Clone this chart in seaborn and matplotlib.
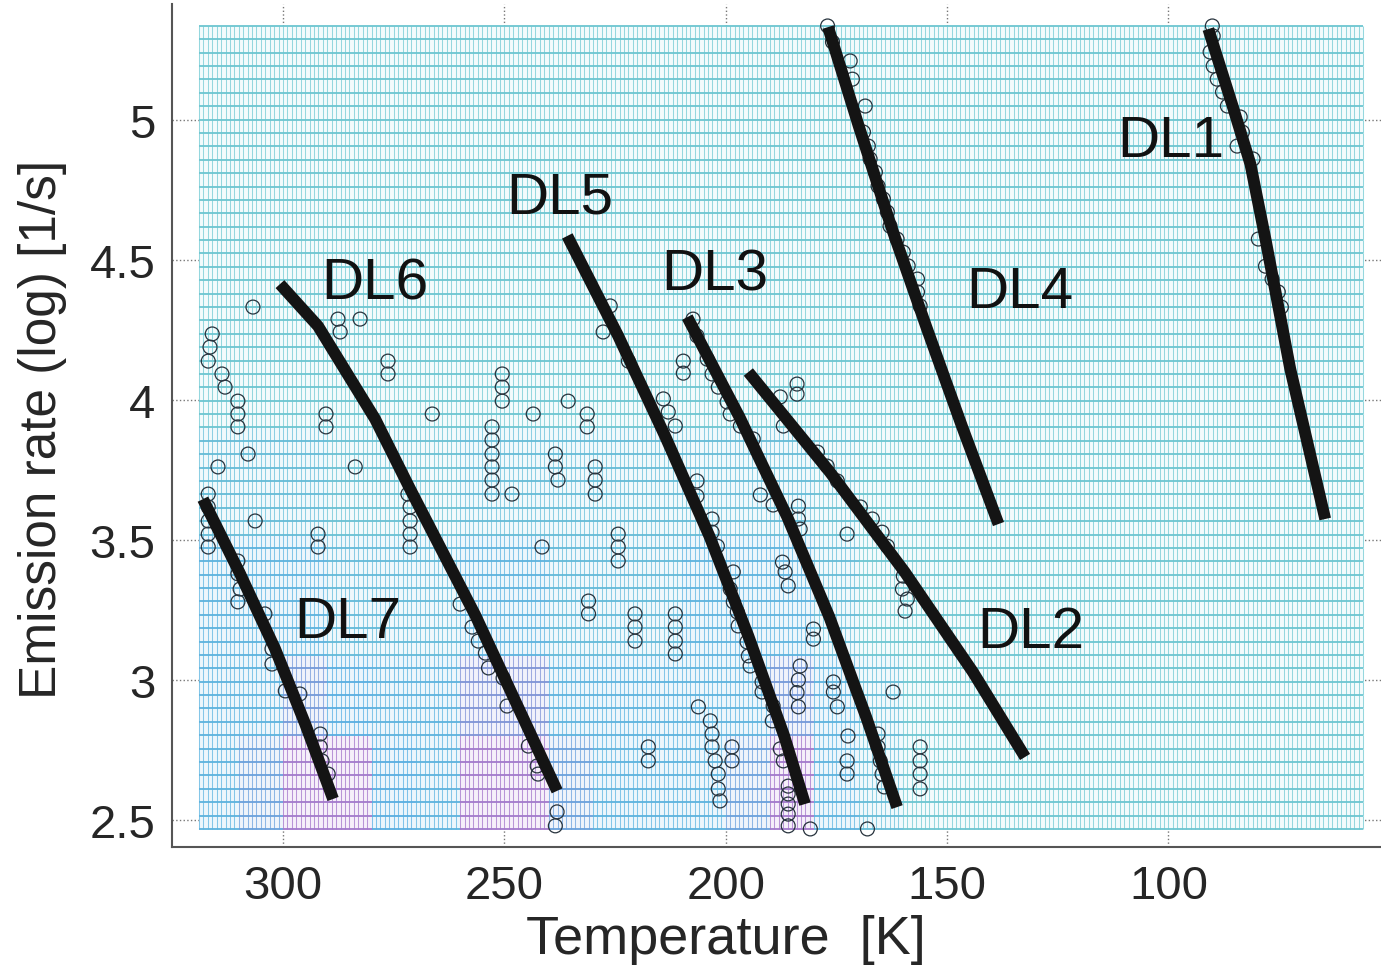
import numpy as np
import matplotlib
matplotlib.use("Agg")
import matplotlib.pyplot as plt
from matplotlib.collections import LineCollection
from matplotlib.colors import LinearSegmentedColormap
import seaborn as sns

# --- style ---
sns.set_theme(style="white")
plt.rcParams['font.family'] = ['Liberation Sans', 'DejaVu Sans']

# --- measured points (Temperature [K], log emission rate) ---
temp_pts = [
    # DL7 / far left
    316.0, 316.5, 316.9, 313.8, 313.1, 310.2, 310.2, 310.2, 307.9, 314.7, 306.8, 306.3,
    316.9, 316.9, 316.9, 316.9, 316.9, 310.2, 310.2, 309.7, 310.2, 304.1, 302.5, 302.5,
    299.5, 296.2, 291.6, 291.6, 291.2, 289.8,
    # DL6 area
    290.3, 290.3, 292.1, 292.1, 287.6, 287.1, 282.6, 283.7, 276.3, 276.3,
    271.8, 271.3, 271.3, 271.3, 271.3, 266.3,
    260.0, 257.3, 255.9, 254.3, 253.6, 250.3, 249.4, 244.6, 242.6, 242.4, 238.1, 238.5,
    # middle scatter
    252.8, 252.8, 252.8, 252.8, 252.8, 252.8, 250.5, 250.5, 250.5, 248.3, 243.5, 241.5,
    238.5, 238.5, 237.9, 235.6, 231.3, 231.3, 229.5, 229.5, 229.5, 231.0, 231.0,
    224.3, 224.3, 224.3, 220.5, 220.5, 220.5, 217.5, 217.5,
    211.4, 211.4, 211.4, 211.4, 206.2, 203.5, 203.1, 203.1, 202.4, 201.7, 201.7, 201.3,
    198.6, 198.6, 209.6, 209.6,
    # DL5
    226.1, 227.7, 222.0, 214.1, 213.0, 211.4, 206.5, 206.5, 203.1, 203.1, 201.9,
    198.3, 199.0, 198.3, 197.4, 197.2, 195.2, 194.9, 194.5,
    191.8, 191.8, 189.3, 189.5, 187.7, 187.0, 185.9, 185.9, 185.9, 185.9, 185.9, 180.9,
    183.2, 183.6, 183.9, 183.6, 175.7, 175.7, 174.8, 172.4, 172.6, 172.6, 168.0,
    192.2, 189.3, 183.6, 183.6, 183.2, 187.2, 186.6, 185.9, 180.2, 180.2, 162.2,
    # DL3
    207.4, 206.5, 204.2, 203.1, 201.7, 199.7, 199.0, 196.7, 193.8,
    165.6, 165.6, 165.1, 164.7, 164.2,
    # DL2
    183.9, 183.9, 187.7, 187.0, 179.3, 177.1, 174.8, 169.6, 166.9, 164.7, 163.5,
    159.9, 160.1, 159.0, 159.5, 172.6, 156.1, 156.1, 156.1, 156.1,
    # DL4
    177.0, 175.9, 171.9, 171.4, 168.5, 168.9, 167.8, 167.4, 166.2, 165.6, 164.4,
    163.5, 162.9, 161.3, 159.9, 158.8, 156.7, 156.7, 156.1,
    # DL1
    90.1, 89.9, 90.6, 89.9, 89.0, 87.8, 86.7, 83.8, 83.3, 84.5, 80.9,
    79.7, 78.1, 76.6, 75.2, 74.5,
]
rate_pts = [
    4.236, 4.189, 4.139, 4.093, 4.046, 3.996, 3.950, 3.904, 3.807, 3.761, 4.332, 3.568,
    3.664, 3.618, 3.568, 3.521, 3.475, 3.425, 3.379, 3.325, 3.279, 3.236, 3.111, 3.057,
    2.961, 2.950, 2.807, 2.761, 2.711, 2.664,
    3.950, 3.904, 3.521, 3.475, 4.289, 4.243, 4.289, 3.761, 4.139, 4.093,
    3.664, 3.618, 3.568, 3.521, 3.475, 3.950,
    3.271, 3.189, 3.139, 3.096, 3.043, 3.007, 2.907, 2.764, 2.693, 2.664, 2.529, 2.479,
    3.904, 3.857, 3.807, 3.761, 3.714, 3.664, 4.093, 4.046, 3.996, 3.664, 3.950, 3.475,
    3.807, 3.761, 3.714, 3.996, 3.950, 3.904, 3.761, 3.714, 3.664, 3.282, 3.236,
    3.521, 3.475, 3.425, 3.236, 3.189, 3.139, 2.761, 2.711,
    3.236, 3.189, 3.139, 3.093, 2.904, 2.854, 2.807, 2.761, 2.711, 2.664, 2.611, 2.568,
    2.761, 2.711, 4.139, 4.096,
    4.336, 4.243, 4.139, 4.004, 3.957, 3.907, 3.711, 3.657, 3.575, 3.528, 3.478,
    3.386, 3.325, 3.279, 3.243, 3.193, 3.136, 3.086, 3.050,
    2.993, 2.957, 2.907, 2.854, 2.754, 2.711, 2.621, 2.593, 2.557, 2.521, 2.479, 2.468,
    3.050, 3.000, 2.955, 2.904, 2.993, 2.957, 2.904, 2.800, 2.711, 2.664, 2.468,
    3.661, 3.625, 3.621, 3.575, 3.539, 3.421, 3.386, 3.336, 3.182, 3.146, 2.957,
    4.289, 4.229, 4.146, 4.093, 4.046, 3.993, 3.950, 3.907, 3.861,
    2.807, 2.761, 2.711, 2.664, 2.618,
    4.057, 4.021, 4.011, 3.907, 3.814, 3.764, 3.711, 3.618, 3.575, 3.528, 3.478,
    3.371, 3.325, 3.289, 3.246, 3.521, 2.761, 2.711, 2.664, 2.611,
    5.336, 5.279, 5.211, 5.146, 5.050, 4.957, 4.907, 4.861, 4.814, 4.764, 4.718,
    4.671, 4.621, 4.575, 4.528, 4.479, 4.432, 4.386, 4.336,
    5.336, 5.300, 5.243, 5.193, 5.146, 5.100, 5.050, 5.011, 4.957, 4.907, 4.861,
    4.575, 4.478, 4.432, 4.386, 4.332,
]

# --- fitted lines ---
dl_names = ['DL1', 'DL2', 'DL3', 'DL4', 'DL5', 'DL6', 'DL7']
dl_temp = [
    [91.0, 85.3, 81.5, 78.1, 72.5, 64.6],
    [194.9, 176.5, 159.6, 144.2, 132.4],
    [208.7, 196.9, 186.1, 176.6, 168.3, 161.3],
    [176.9, 169.9, 162.6, 154.7, 146.6, 138.4],
    [235.8, 224.3, 213.7, 203.7, 194.9, 186.8, 182.1],
    [300.7, 292.1, 279.2, 271.3, 256.6, 238.1],
    [318.1, 309.7, 301.8, 295.0, 288.7],
]
dl_rate = [
    [5.325, 5.039, 4.843, 4.575, 4.111, 3.575],
    [4.100, 3.743, 3.386, 3.029, 2.725],
    [4.296, 3.939, 3.582, 3.225, 2.868, 2.546],
    [5.332, 4.975, 4.618, 4.261, 3.904, 3.557],
    [4.586, 4.229, 3.871, 3.514, 3.157, 2.800, 2.557],
    [4.414, 4.264, 3.932, 3.682, 3.232, 2.604],
    [3.646, 3.379, 3.111, 2.843, 2.575],
]
# label positions (centre T, baseline rate)
label_temp = [99.4, 131.2, 202.4, 133.5, 237.5, 279.2, 285.3]
label_rate = [4.871, 3.118, 4.396, 4.332, 4.668, 4.361, 3.154]

x_ticks = [300, 250, 200, 150, 100]
y_ticks = [2.5, 3.0, 3.5, 4.0, 4.5, 5.0]
y_tick_labels = ['2.5', '3', '3.5', '4', '4.5', '5']

# --- background mesh tint (0 cyan, 1 blue, 2 magenta), coarse estimate ---
tint_T_edges = [320, 310, 300, 290, 280, 270, 260, 250, 240, 230, 220, 210, 200, 190, 180, 170, 160, 150]
tint_rate_edges = [2.4, 2.8, 3.1, 3.5, 3.9, 5.4]
tint_table = [
    [0.8, 1.2, 1.8, 1.8, 1.0, 0.8, 1.8, 1.8, 1.2, 0.8, 0.8, 0.8, 1.2, 1.8, 0.8, 0.4, 0.0],
    [0.8, 0.8, 1.3, 1.0, 0.8, 0.8, 1.4, 1.4, 0.8, 0.8, 0.8, 0.8, 0.8, 1.3, 0.8, 0.4, 0.0],
    [0.8, 0.8, 0.8, 0.5, 0.5, 0.5, 0.8, 0.8, 0.5, 0.5, 0.5, 0.8, 0.8, 0.8, 0.4, 0.0, 0.0],
    [0.4, 0.4, 0.4, 0.2, 0.2, 0.2, 0.4, 0.4, 0.4, 0.4, 0.4, 0.4, 0.4, 0.4, 0.2, 0.0, 0.0],
    [0.0] * 17,
]

fig = plt.figure(figsize=(13.81, 9.70), dpi=100)
ax = fig.add_axes([0.1245, 0.1258, 0.8755, 0.869])

# mesh grid
mesh_T = np.arange(319.0, 55.0, -1.0)
mesh_R = np.linspace(2.468, 5.336, 61)
cT = 0.5 * (mesh_T[:-1] + mesh_T[1:])
cR = 0.5 * (mesh_R[:-1] + mesh_R[1:])
tbl = np.array(tint_table)
col = np.searchsorted(-np.array(tint_T_edges), -cT) - 1
row = np.clip(np.searchsorted(tint_rate_edges, cR) - 1, 0, len(tint_rate_edges) - 2)
Z = np.zeros((len(cR), len(cT)))
ok = (col >= 0) & (col < tbl.shape[1])
Z[:, ok] = tbl[row][:, col[ok]]

face_cmap = LinearSegmentedColormap.from_list('face', ['#f3fbfc', '#ecf5fc', '#f9eef9'])
hline_cmap = LinearSegmentedColormap.from_list('hedge', ['#6cc5d0', '#58ade0', '#b46cc6'])
vline_cmap = LinearSegmentedColormap.from_list('vedge', ['#95d7de', '#80c2ea', '#c78ad2'])
ax.pcolormesh(mesh_T, mesh_R, Z, cmap=face_cmap, vmin=0, vmax=2, shading='flat', zorder=1)

TT, RR = np.meshgrid(mesh_T, mesh_R)
nr, nc = Z.shape
# vertical segments
v_seg = np.stack([np.stack([TT[:-1, :], RR[:-1, :]], -1), np.stack([TT[1:, :], RR[1:, :]], -1)], 2).reshape(-1, 2, 2)
v_col = Z[:, np.minimum(np.arange(nc + 1), nc - 1)].reshape(-1)
# horizontal segments
h_seg = np.stack([np.stack([TT[:, :-1], RR[:, :-1]], -1), np.stack([TT[:, 1:], RR[:, 1:]], -1)], 2).reshape(-1, 2, 2)
h_col = Z[np.minimum(np.arange(nr + 1), nr - 1), :].reshape(-1)
ax.add_collection(LineCollection(v_seg, colors=vline_cmap(v_col / 2), linewidths=0.75, zorder=1.5))
ax.add_collection(LineCollection(h_seg, colors=hline_cmap(h_col / 2), linewidths=1.3, zorder=1.6))

# data points
sns.scatterplot(x=temp_pts, y=rate_pts, ax=ax, marker='o', s=100, facecolors='none',
                edgecolor='#26323c', linewidth=0.9, zorder=3)

# fitted lines + labels
for name, tt, rr, lt, lr in zip(dl_names, dl_temp, dl_rate, label_temp, label_rate):
    sns.lineplot(x=tt, y=rr, ax=ax, color='#141414', linewidth=8.5, sort=False,
                 estimator=None, solid_capstyle='butt', solid_joinstyle='round', zorder=4)
    ax.text(lt, lr, name, fontsize=42, ha='center', va='baseline', color='#111111', zorder=5)

ax.set_xlim(325.1, 52.0)
ax.set_ylim(2.4036, 5.4143)
ax.set_xticks(x_ticks)
ax.set_yticks(y_ticks)
ax.set_yticklabels(y_tick_labels)
ax.grid(True, linestyle=':', color='#777777', linewidth=1.0)
ax.set_axisbelow(True)
ax.tick_params(direction='in', length=10, width=1.3, color='#333333', labelsize=34, pad=12)
sns.despine(ax=ax)
for s in ['left', 'bottom']:
    ax.spines[s].set_color('#555555')
    ax.spines[s].set_linewidth(1.5)

ax.set_xlabel('Temperature  [K]', fontsize=39)
ax.set_ylabel('Emission rate (log) [1/s]', fontsize=37)
ax.xaxis.set_label_coords(0.458, -0.079)
ax.yaxis.set_label_coords(-0.087, 0.496)

fig.savefig('out.png', dpi=100)
